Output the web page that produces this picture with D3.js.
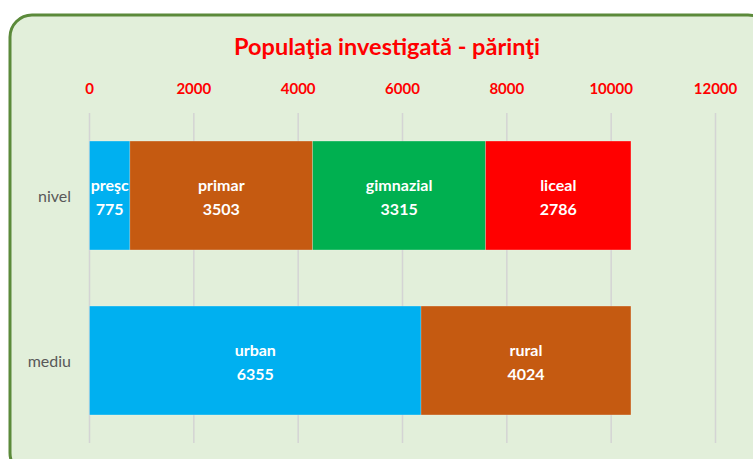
<!DOCTYPE html>
<html lang="ro">
<head>
<meta charset="UTF-8">
<script src="https://cdn.jsdelivr.net/npm/d3@7"></script>
<style>
  body { margin: 0; background: #fff; }
  text { font-family: Lato, 'Open Sans', sans-serif; }
  .tick-lbl { fill: #ff0000; font-weight: bold; font-size: 15px; text-anchor: middle; }
  .cat-lbl { fill: #595959; font-size: 16px; text-anchor: end; }
  .bar-lbl { fill: #fff; font-weight: bold; font-size: 16px; text-anchor: middle; }
</style>
</head>
<body>
<svg width="753" height="459"></svg>
<script>
  // data
  const categories = ["nivel", "mediu"];
  const nivelNames = ["preşc", "primar", "gimnazial", "liceal"];
  const nivelValues = [775, 3503, 3315, 2786];
  const mediuNames = ["urban", "rural"];
  const mediuValues = [6355, 4024];
  const ticks = [0, 2000, 4000, 6000, 8000, 10000, 12000];
  const colors = {"preşc": "#00b0f0", "primar": "#c55a11", "gimnazial": "#00b050",
                  "liceal": "#ff0000", "urban": "#00b0f0", "rural": "#c55a11"};

  const svg = d3.select("svg");

  // frame
  svg.append("rect")
    .attr("x", 10).attr("y", 15).attr("width", 760).attr("height", 460)
    .attr("rx", 22).attr("fill", "#e2efda")
    .attr("stroke", "#5b8a3a").attr("stroke-width", 3);

  svg.append("text")
    .attr("x", 387).attr("y", 55)
    .attr("text-anchor", "middle")
    .attr("fill", "#ff0000").attr("font-weight", "bold").attr("font-size", 23.5)
    .text("Populaţia investigată - părinţi");

  const x = d3.scaleLinear().domain([0, 12000]).range([89.5, 715.5]);
  const y = d3.scaleBand().domain(categories).range([113, 443]).paddingInner(0.34).paddingOuter(0.17);

  // grid
  svg.append("g").selectAll("line").data(ticks).join("line")
    .attr("x1", d => x(d)).attr("x2", d => x(d))
    .attr("y1", 113).attr("y2", 443)
    .attr("stroke", "#d4d4d4").attr("stroke-width", 1.5);

  svg.append("g").selectAll("text").data(ticks).join("text")
    .attr("class", "tick-lbl")
    .attr("x", d => x(d)).attr("y", 94)
    .text(d => d);

  svg.append("g").selectAll("text").data(categories).join("text")
    .attr("class", "cat-lbl")
    .attr("x", 71).attr("y", d => y(d) + y.bandwidth() / 2 + 6)
    .text(d => d);

  function stack(cat, names, values) {
    let acc = 0;
    return names.map((n, i) => {
      const seg = {cat: cat, name: n, value: values[i], x0: acc, x1: acc + values[i]};
      acc += values[i];
      return seg;
    });
  }
  const segs = stack("nivel", nivelNames, nivelValues).concat(stack("mediu", mediuNames, mediuValues));

  svg.append("g").selectAll("rect").data(segs).join("rect")
    .attr("x", d => x(d.x0)).attr("width", d => x(d.x1) - x(d.x0))
    .attr("y", d => y(d.cat)).attr("height", y.bandwidth())
    .attr("fill", d => colors[d.name])
    .attr("stroke", "#fff").attr("stroke-opacity", 0.4).attr("stroke-width", 0.5);

  const lbl = svg.append("g").selectAll("g").data(segs).join("g")
    .attr("transform", d => `translate(${[(x(d.x0) + x(d.x1)) / 2, y(d.cat) + y.bandwidth() / 2]})`);
  lbl.append("text").attr("class", "bar-lbl").attr("y", -5).text(d => d.name);
  lbl.append("text").attr("class", "bar-lbl").attr("y", 19).text(d => d.value);
</script>
</body>
</html>
